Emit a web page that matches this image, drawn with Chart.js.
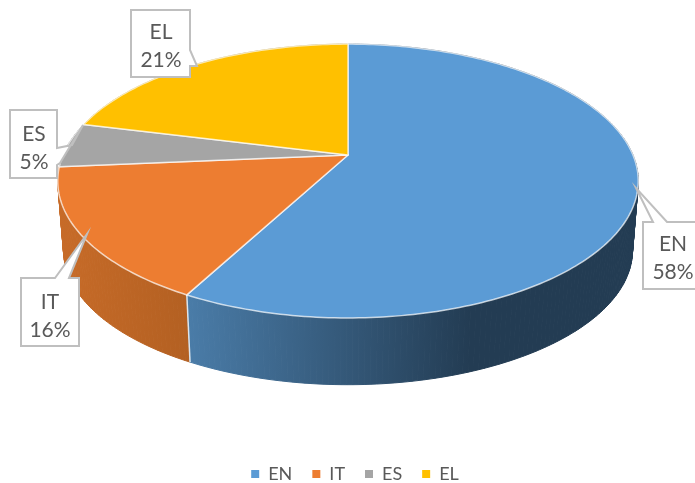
<!DOCTYPE html>
<html>
<head>
<meta charset="utf-8">
<style>
  html, body { margin: 0; padding: 0; background: #fff; }
  canvas { display: block; }
</style>
<script src="https://cdn.jsdelivr.net/npm/chart.js@4"></script>
</head>
<body>
<canvas id="pie" width="695" height="483"></canvas>
<script>
const categories = ['EN', 'IT', 'ES', 'EL'];
const shares = [57.8, 15.8, 5.3, 21.1];
const topColors = ['#5B9BD5', '#ED7D31', '#A5A5A5', '#FFC000'];

// wall shading for each slice, left and right end of the gradient
const wallColors = [
  ['#4A7CA8', '#233C53'],
  ['#C76B28', '#B36022'],
  ['#7A7A7A', '#6A6A6A'],
  ['#BF9000', '#A67C00']
];
const wallGradientX = [[188, 470], [60, 190], [60, 90], [85, 348]];

// the pie lies tilted, so the circle goes through a perspective projection
const tilt = -0.19;
const squash = 132 / 285;
const wallDrop = 70;
const wallShrink = 0.98;

function project(arc, angle, level) {
  const u = Math.cos(angle), v = Math.sin(angle);
  const w = 1 + tilt * v;
  const r = arc.outerRadius * (level ? wallShrink : 1);
  return {
    x: arc.x + r * u / w,
    y: arc.y + (level ? wallDrop : 0) + r * squash * v / w
  };
}

function rimPoints(arc, level) {
  const pts = [];
  const n = Math.max(2, Math.ceil((arc.endAngle - arc.startAngle) * 180 / Math.PI));
  for (let i = 0; i <= n; i++) {
    pts.push(project(arc, arc.startAngle + (arc.endAngle - arc.startAngle) * i / n, level));
  }
  return pts;
}

const pie3d = {
  id: 'pie3d',
  afterLayout(chart) {
    // apex of the pie sits high up, the legend stays low and a bit to the right
    chart.chartArea.top = 0;
    chart.chartArea.bottom = 310;
    chart.legend.left += 7;
    chart.legend.right += 7;
    chart.legend.top += 10;
    chart.legend.bottom += 10;
  },
  beforeDatasetDraw(chart, args) {
    const ctx = chart.ctx;
    const arcs = args.meta.data;

    // side walls, back slices first
    for (let i = arcs.length - 1; i >= 0; i--) {
      const top = rimPoints(arcs[i], 0), low = rimPoints(arcs[i], 1);
      const g = ctx.createLinearGradient(wallGradientX[i][0], 0, wallGradientX[i][1], 0);
      g.addColorStop(0, wallColors[i][0]);
      g.addColorStop(1, wallColors[i][1]);
      ctx.fillStyle = g;
      ctx.strokeStyle = g;
      ctx.lineWidth = 1;
      for (let k = 0; k < top.length - 1; k++) {
        ctx.beginPath();
        ctx.moveTo(top[k].x, top[k].y);
        ctx.lineTo(top[k + 1].x, top[k + 1].y);
        ctx.lineTo(low[k + 1].x, low[k + 1].y);
        ctx.lineTo(low[k].x, low[k].y);
        ctx.closePath();
        ctx.fill();
        ctx.stroke();
      }
    }

    // seams between walls that face the viewer
    ctx.strokeStyle = 'rgba(255,255,255,0.8)';
    ctx.lineWidth = 1.5;
    arcs.forEach(arc => {
      if (Math.sin(arc.endAngle) > 0.19) {
        const a = project(arc, arc.endAngle, 0), b = project(arc, arc.endAngle, 1);
        ctx.beginPath();
        ctx.moveTo(a.x, a.y);
        ctx.lineTo(b.x, b.y);
        ctx.stroke();
      }
    });

    // top faces
    arcs.forEach((arc, i) => {
      ctx.beginPath();
      ctx.moveTo(arc.x, arc.y);
      rimPoints(arc, 0).forEach(p => ctx.lineTo(p.x, p.y));
      ctx.closePath();
      ctx.fillStyle = topColors[i];
      ctx.fill();
      ctx.strokeStyle = 'rgba(255,255,255,0.7)';
      ctx.lineWidth = 1.5;
      ctx.lineJoin = 'round';
      ctx.stroke();
    });
    return false;
  },
  afterDraw(chart) {
    const ctx = chart.ctx;
    callouts.forEach((c, i) => {
      ctx.beginPath();
      c.outline.forEach((p, k) => k ? ctx.lineTo(p[0], p[1]) : ctx.moveTo(p[0], p[1]));
      ctx.closePath();
      ctx.fillStyle = '#fff';
      ctx.fill();
      ctx.strokeStyle = '#BFBFBF';
      ctx.lineWidth = 2;
      ctx.lineJoin = 'miter';
      ctx.stroke();
      ctx.fillStyle = '#595959';
      ctx.font = '21px Lato';
      ctx.textAlign = 'center';
      ctx.textBaseline = 'middle';
      ctx.fillText(categories[i], c.textX, c.textY);
      ctx.fillText(Math.round(shares[i]) + '%', c.textX, c.textY + 28);
    });
  }
};

// callout boxes with their pointer wedge, in the order of the categories
const callouts = [
  { textX: 673, textY: 244, outline: [[643, 222], [653, 222], [636, 188], [667, 222], [700, 222], [700, 289], [643, 289]] },
  { textX: 50, textY: 302, outline: [[21, 278], [55, 278], [87, 234], [69, 278], [79, 278], [79, 346], [21, 346]] },
  { textX: 34, textY: 134, outline: [[10, 110], [57, 110], [57, 148], [72, 145], [83, 125], [60, 163], [57, 165], [57, 178], [10, 178]] },
  { textX: 161, textY: 32, outline: [[131, 10], [190, 10], [190, 50], [197, 66], [190, 66], [190, 77], [131, 77]] }
];

new Chart(document.getElementById('pie'), {
  type: 'pie',
  data: {
    labels: categories,
    datasets: [{
      data: shares,
      backgroundColor: topColors,
      borderWidth: 0,
      radius: 285
    }]
  },
  options: {
    responsive: false,
    animation: false,
    layout: { padding: { left: 1 } },
    plugins: {
      tooltip: { enabled: false },
      legend: {
        position: 'bottom',
        labels: {
          boxWidth: 8,
          boxHeight: 8,
          padding: 20,
          color: '#595959',
          font: { family: 'Lato', size: 18 }
        }
      }
    }
  },
  plugins: [pie3d]
});
</script>
</body>
</html>
